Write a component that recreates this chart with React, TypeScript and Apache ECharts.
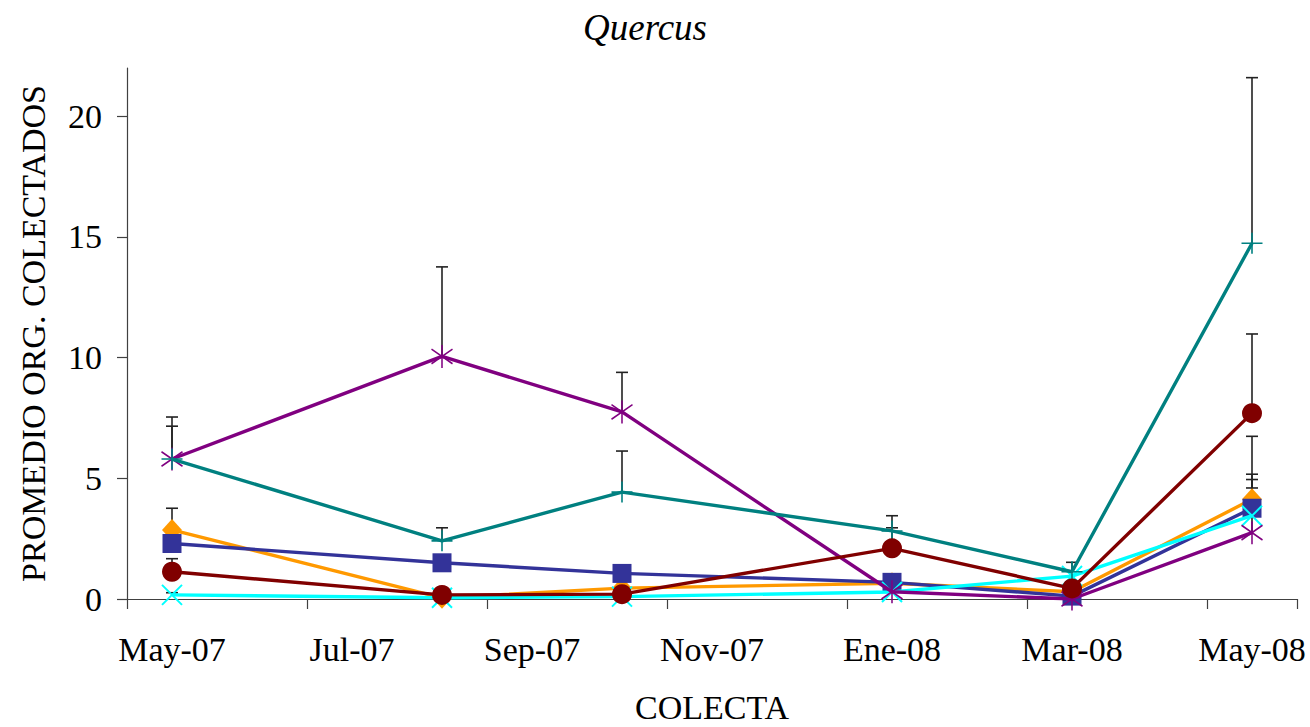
import React, { useEffect, useRef } from "react";
import * as echarts from "echarts";

const months = ["May-07", "Jun-07", "Jul-07", "Ago-07", "Sep-07", "Oct-07", "Nov-07", "Dic-07", "Ene-08", "Feb-08", "Mar-08", "Abr-08", "May-08"];
const tickLabels = ["May-07", "", "Jul-07", "", "Sep-07", "", "Nov-07", "", "Ene-08", "", "Mar-08", "", "May-08"];
const collectIdx = [0, 3, 5, 8, 10, 12];
const yTicks = [0, 5, 10, 15, 20];

const orangeVals = [2.86, 0.05, 0.45, 0.65, 0.3, 4.13];
const orangeErr = [3.76, null, null, null, null, 5.17];
const blueVals = [2.3, 1.5, 1.06, 0.69, 0.12, 3.76];
const blueErr = [null, null, null, null, null, 4.95];
const cyanVals = [0.17, 0.05, 0.1, 0.29, 0.95, 3.45];
const cyanErr = [0.26, null, null, null, null, 4.6];
const purpleVals = [5.8, 10.05, 7.75, 0.3, 0.0, 2.75];
const purpleErr = [7.54, 13.76, 9.39, null, null, 6.74];
const tealVals = [5.8, 2.41, 4.43, 2.82, 1.13, 14.74];
const tealErr = [7.16, 2.95, 6.13, 3.45, 1.52, 21.6];
const maroonVals = [1.13, 0.17, 0.2, 2.1, 0.44, 7.7];
const maroonErr = [1.67, null, null, 2.95, null, 10.98];

const FONT = "'Liberation Serif', 'Times New Roman', serif";

type Spec = {
  name: string;
  color: string;
  vals: number[];
  err: (number | null)[];
  symbol: string;
  symbolSize: number | number[];
  borderWidth: number;
};

const specs: Spec[] = [
  { name: "orange", color: "#FF9900", vals: orangeVals, err: orangeErr, symbol: "diamond", symbolSize: [20, 22], borderWidth: 0 },
  { name: "blue", color: "#333399", vals: blueVals, err: blueErr, symbol: "rect", symbolSize: 19, borderWidth: 0 },
  { name: "cyan", color: "#00FFFF", vals: cyanVals, err: cyanErr, symbol: "path://M-10,-10L10,10M-10,10L10,-10", symbolSize: 20, borderWidth: 2 },
  { name: "purple", color: "#800080", vals: purpleVals, err: purpleErr, symbol: "path://M0,-11L0,11M-10,-7L10,7M-10,7L10,-7", symbolSize: [21, 23], borderWidth: 1.6 },
  { name: "teal", color: "#008080", vals: tealVals, err: tealErr, symbol: "path://M-10,0L10,0M0,-10L0,10", symbolSize: 21, borderWidth: 1.6 },
  { name: "maroon", color: "#800000", vals: maroonVals, err: maroonErr, symbol: "circle", symbolSize: 20, borderWidth: 0 },
];

function toSlots(vals: number[]) {
  const arr: (number | null)[] = months.map(() => null);
  collectIdx.forEach((idx, i) => {
    arr[idx] = vals[i];
  });
  return arr;
}

export default function App() {
  const ref = useRef<HTMLDivElement>(null);
  useEffect(() => {
    if (!ref.current) return;
    const chart = echarts.init(ref.current, undefined, { renderer: "svg" });

    const errData: number[][] = [];
    specs.forEach((s) => {
      s.err.forEach((e, i) => {
        if (e !== null) errData.push([collectIdx[i], s.vals[i], e]);
      });
    });

    const lineSeries = specs.map((s, k) => ({
      type: "line",
      name: s.name,
      data: toSlots(s.vals),
      connectNulls: true,
      color: s.color,
      symbol: s.symbol,
      symbolSize: s.symbolSize,
      showSymbol: true,
      lineStyle: { color: s.color, width: 3.4 },
      itemStyle: { color: s.color, borderColor: s.color, borderWidth: s.borderWidth },
      z: 3 + k,
      silent: true,
    }));

    chart.setOption({
      animation: false,
      backgroundColor: "#ffffff",
      title: {
        text: "Quercus",
        left: 578,
        top: 4,
        textStyle: { fontFamily: FONT, fontStyle: "italic", fontWeight: "normal", fontSize: 37, color: "#000" },
      },
      grid: { left: 127, right: 13, top: 68, bottom: 128, containLabel: false, outerBoundsMode: "none" },
      xAxis: {
        type: "category",
        data: months,
        boundaryGap: true,
        name: "COLECTA",
        nameLocation: "middle",
        nameGap: 91,
        nameTextStyle: { fontFamily: FONT, fontSize: 34, color: "#000" },
        axisLine: { show: true, lineStyle: { color: "#404040", width: 1.2 } },
        axisTick: { show: true, interval: 1, length: 10, lineStyle: { color: "#404040", width: 1.2 } },
        axisLabel: {
          interval: 1,
          margin: 33,
          fontFamily: FONT,
          fontSize: 34,
          color: "#000",
          formatter: (v: string, i: number) => tickLabels[i],
        },
        splitLine: { show: false },
      },
      yAxis: {
        type: "value",
        min: 0,
        max: 22,
        interval: 5,
        name: "PROMEDIO ORG. COLECTADOS",
        nameLocation: "middle",
        nameGap: 77,
        nameRotate: 90,
        nameTextStyle: { fontFamily: FONT, fontSize: 34, color: "#000" },
        axisLine: { show: true, lineStyle: { color: "#404040", width: 1.2 } },
        axisTick: { show: true, length: 10, customValues: yTicks, lineStyle: { color: "#404040", width: 1.2 } },
        axisLabel: { margin: 25, fontFamily: FONT, fontSize: 34, color: "#000", customValues: yTicks },
        splitLine: { show: false },
      },
      series: [
        {
          type: "custom",
          name: "err",
          data: errData,
          z: 2,
          silent: true,
          encode: { x: 0, y: [1, 2] },
          renderItem: (params: any, api: any) => {
            const x = api.value(0);
            const p0 = api.coord([x, api.value(1)]);
            const p1 = api.coord([x, api.value(2)]);
            const st = { stroke: "#222222", lineWidth: 1.6 };
            return {
              type: "group",
              children: [
                { type: "line", shape: { x1: p0[0], y1: p0[1], x2: p1[0], y2: p1[1] }, style: st },
                { type: "line", shape: { x1: p1[0] - 6, y1: p1[1], x2: p1[0] + 6, y2: p1[1] }, style: st },
              ],
            };
          },
        },
        ...lineSeries,
      ],
    });
    return () => chart.dispose();
  }, []);
  return <div ref={ref} style={{ position: "fixed", left: 0, top: 0, width: 1310, height: 727 }} />;
}
